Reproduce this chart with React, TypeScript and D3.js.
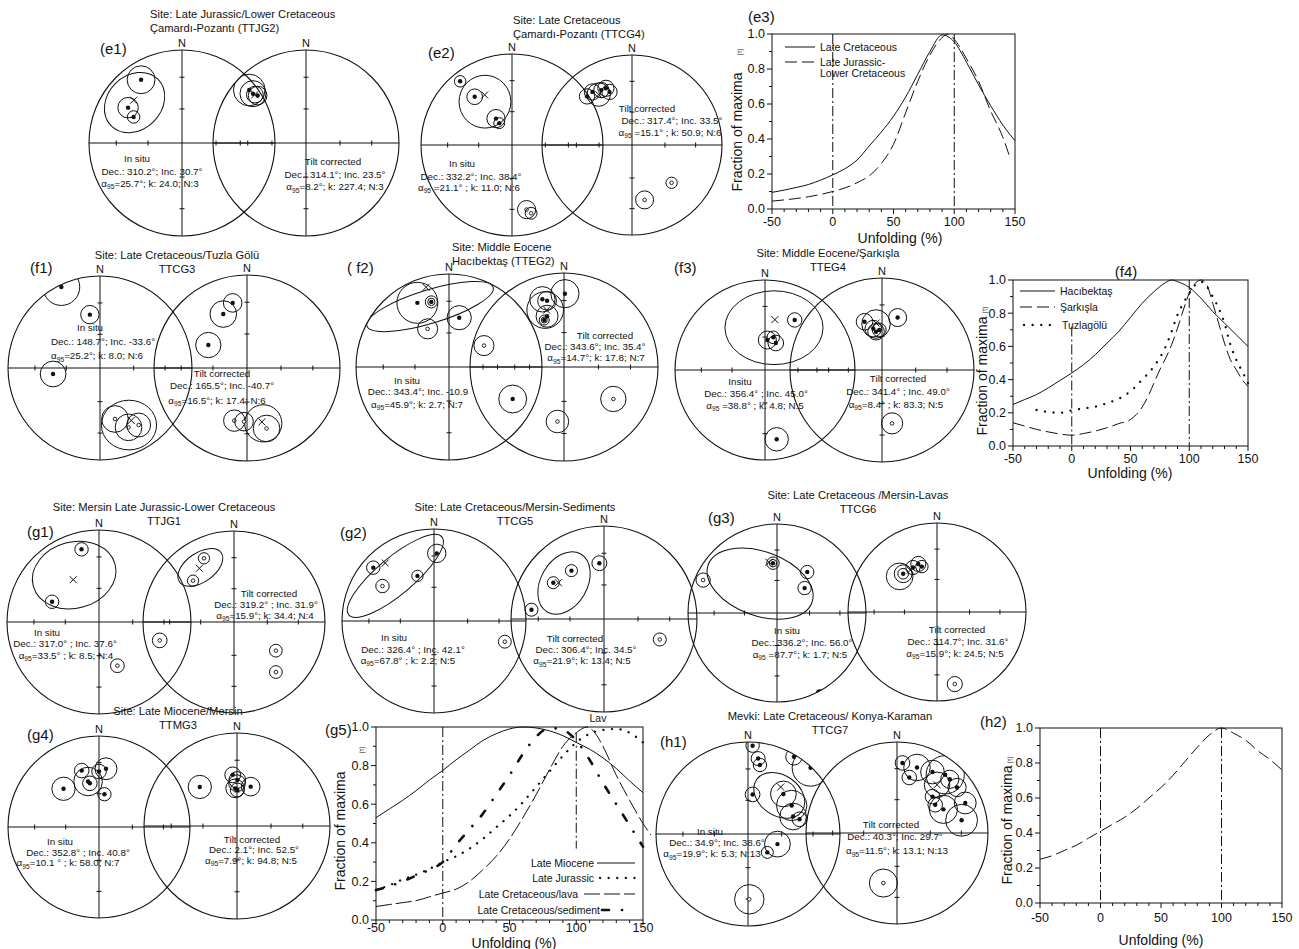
import React from 'react';
import * as d3 from 'd3';

const FONT = "'Liberation Sans', Arial, Helvetica, sans-serif";
const INK = '#111';

// ---------------------------------------------------------------
// Fold-test curves: fraction of maxima (τ) against unfolding (%)
// ---------------------------------------------------------------
const unfold = [-50, -40, -30, -20, -10, 0, 10, 20, 30, 40, 50, 60, 70, 80, 90, 100, 110, 120, 130, 140, 150];

// (e3) Çamardı-Pozantı
const e3LateCretaceous = [0.095, 0.108, 0.123, 0.14, 0.165, 0.195, 0.23, 0.28, 0.36, 0.44, 0.53, 0.64, 0.77, 0.9, 0.995, 0.955, 0.84, 0.71, 0.59, 0.48, 0.39];
const e3JurassicX = [-50, -40, -30, -20, -10, 0, 10, 20, 30, 40, 50, 60, 70, 80, 90, 95, 100, 110, 120, 130, 140, 146];
const e3Jurassic = [0.045, 0.052, 0.06, 0.07, 0.083, 0.1, 0.12, 0.15, 0.19, 0.26, 0.37, 0.55, 0.73, 0.88, 0.98, 1.0, 0.97, 0.86, 0.73, 0.56, 0.41, 0.29];

// (f4) Hacıbektaş / Şarkışla / Tuzlagölü
const f4HacX = [-50, -40, -30, -20, -10, 0, 10, 20, 30, 40, 50, 60, 70, 80, 85, 90, 100, 110, 120, 130, 140, 150];
const f4Hac = [0.25, 0.28, 0.31, 0.35, 0.395, 0.44, 0.49, 0.55, 0.62, 0.69, 0.775, 0.86, 0.93, 0.985, 1.0, 0.99, 0.955, 0.89, 0.81, 0.74, 0.67, 0.6];
const f4SarX = [-50, -40, -30, -20, -10, 0, 10, 20, 30, 40, 50, 55, 60, 65, 70, 75, 80, 85, 90, 95, 100, 105, 110, 115, 120, 125, 130, 135, 140, 145, 150];
const f4Sar = [0.14, 0.12, 0.1, 0.085, 0.072, 0.065, 0.075, 0.09, 0.11, 0.135, 0.16, 0.19, 0.235, 0.3, 0.38, 0.46, 0.53, 0.61, 0.71, 0.82, 0.92, 0.98, 1.0, 0.97, 0.86, 0.74, 0.62, 0.52, 0.46, 0.4, 0.36];
const f4TuzX = [-30, -20, -10, 0, 10, 20, 30, 40, 50, 60, 70, 80, 85, 90, 95, 100, 105, 110, 115, 120, 125, 130, 135, 140, 145, 150];
const f4Tuz = [0.217, 0.205, 0.2, 0.215, 0.227, 0.237, 0.258, 0.285, 0.33, 0.4, 0.48, 0.6, 0.69, 0.79, 0.86, 0.92, 0.97, 0.99, 0.96, 0.9, 0.83, 0.74, 0.61, 0.52, 0.45, 0.38];

// (g5) Mersin
const g5Miocene = [0.53, 0.575, 0.62, 0.67, 0.725, 0.775, 0.83, 0.88, 0.93, 0.965, 0.99, 1.0, 0.995, 0.98, 0.955, 0.92, 0.885, 0.84, 0.785, 0.72, 0.66];
const g5Jurassic = [0.155, 0.18, 0.21, 0.235, 0.265, 0.3, 0.33, 0.37, 0.42, 0.48, 0.54, 0.61, 0.69, 0.77, 0.85, 0.92, 0.965, 0.985, 0.99, 0.97, 0.92];
const g5LavaX = [-50, -40, -30, -20, -10, 0, 10, 20, 30, 40, 50, 60, 70, 80, 90, 100, 108, 115, 120, 130, 140, 150, 156];
const g5Lava = [0.07, 0.08, 0.09, 0.1, 0.12, 0.14, 0.16, 0.2, 0.26, 0.33, 0.42, 0.53, 0.65, 0.78, 0.9, 0.97, 1.0, 0.96, 0.9, 0.75, 0.62, 0.5, 0.44];
const g5Sediment = [0.155, 0.175, 0.2, 0.23, 0.26, 0.3, 0.39, 0.47, 0.55, 0.65, 0.75, 0.86, 0.95, 0.995, 0.985, 0.93, 0.83, 0.71, 0.6, 0.49, 0.38];

// (h2) Konya-Karaman
const h2Curve = [0.25, 0.27, 0.3, 0.33, 0.37, 0.41, 0.45, 0.49, 0.54, 0.6, 0.66, 0.73, 0.81, 0.89, 0.96, 1.0, 0.97, 0.93, 0.87, 0.82, 0.76];

const xTicks = [-50, 0, 50, 100, 150];
const yTicks = [0, 0.2, 0.4, 0.6, 0.8, 1.0];

// ---------------------------------------------------------------
// Stereonet data. x = east, y = north on the unit equal-area net,
// a = error circle radius on the same scale; kind: 1 lower hemisphere
// (filled), 0 upper hemisphere (open), 2 filled with inner ring,
// 3 large filled dot.
// ---------------------------------------------------------------
type Pt = [number, number, number, number];
type Ell = [number, number, number, number, number]; // cx, cy, rx, ry, rotation°

const netTickInc = [60, 30];

const e1InSituPts: Pt[] = [[-0.44, 0.68, 0.15, 1], [-0.58, 0.38, 0.11, 1], [-0.52, 0.28, 0.067, 1]];
const e1InSituMean = [-0.52, 0.46];
const e1InSituConf: Ell = [-0.51, 0.435, 0.355, 0.29, -45];
const e1InSituText = ['In situ', 'Dec.: 310.2°; Inc. 30.7°', '=25.7°; k: 24.0; N:3'];

const e1TiltPts: Pt[] = [[-0.61, 0.57, 0.17, 1], [-0.57, 0.53, 0.14, 1], [-0.52, 0.51, 0.1, 1]];
const e1TiltMean = [-0.55, 0.52];
const e1TiltConf: Ell = [-0.55, 0.52, 0.09, 0.09, 0];
const e1TiltText = ['Tilt corrected', 'Dec.: 314.1°; Inc. 23.5°', '=8.2°; k: 227.4; N:3'];

const e2InSituPts: Pt[] = [[-0.57, 0.7, 0.063, 1], [-0.41, 0.53, 0.086, 1], [-0.176, 0.29, 0.1, 1], [-0.14, 0.24, 0.06, 1], [0.16, -0.71, 0.1, 0], [0.21, -0.75, 0.065, 0]];
const e2InSituMean = [-0.3, 0.55];
const e2InSituConf: Ell = [-0.297, 0.476, 0.285, 0.29, 0];
const e2InSituText = ['In situ', 'Dec.: 332.2°; Inc. 38.4°', ' =21.1° ; k: 11.0; N:6'];

const e2TiltPts: Pt[] = [[-0.5, 0.54, 0.085, 1], [-0.44, 0.59, 0.09, 1], [-0.34, 0.61, 0.085, 1], [-0.29, 0.63, 0.09, 1], [-0.25, 0.59, 0.085, 1], [0.44, -0.42, 0.063, 0], [0.14, -0.61, 0.1, 0]];
const e2TiltMean = [-0.37, 0.56];
const e2TiltConf: Ell = [-0.37, 0.56, 0.13, 0.13, 0];
const e2TiltText = ['Tilt corrected', 'Dec.: 317.4°; Inc. 33.5°', ' =15.1° ; k: 50.9; N:6'];

const f1InSituPts: Pt[] = [[-0.42, 0.88, 0.2, 1], [-0.11, 0.58, 0.1, 1], [-0.51, -0.065, 0.14, 1], [0.163, -0.554, 0.145, 0], [0.31, -0.645, 0.145, 0], [0.42, -0.62, 0.13, 0]];
const f1InSituMean = [0.34, -0.57];
const f1InSituConf: Ell = [0.315, -0.62, 0.3, 0.27, 0];
const f1InSituText = ['In situ', 'Dec.: 148.7°; Inc. -33.6°', '=25.2°; k: 8.0; N:6'];

const f1TiltPts: Pt[] = [[-0.154, 0.7, 0.1, 1], [-0.255, 0.58, 0.143, 1], [-0.416, 0.247, 0.136, 1], [-0.137, -0.566, 0.115, 0], [-0.032, -0.577, 0.1, 0], [0.21, -0.65, 0.143, 0]];
const f1TiltMean = [0.16, -0.58];
const f1TiltConf: Ell = [0.175, -0.595, 0.2, 0.2, 0];
const f1TiltText = ['Tilt corrected', 'Dec.: 165.5°; Inc. -40.7°', '=16.5°; k: 17.4; N:6'];

const f2InSituPts: Pt[] = [[-0.34, 0.69, 0.22, 1], [-0.19, 0.7, 0.065, 2], [0.11, 0.53, 0.13, 1], [-0.23, 0.41, 0.108, 0], [0.376, 0.23, 0.108, 0], [0.685, -0.344, 0.15, 1]];
const f2InSituMean = [-0.247, 0.857];
const f2InSituConf: Ell = [-0.204, 0.65, 0.71, 0.18, -17];
const f2InSituText = ['In situ', 'Dec.: 343.4°; Inc. -10.9', '=45.9°; k: 2.7; N:7'];

const f2TiltPts: Pt[] = [[0.01, 0.78, 0.15, 1], [-0.23, 0.72, 0.135, 1], [-0.18, 0.705, 0.1, 1], [-0.18, 0.54, 0.117, 1], [-0.21, 0.5, 0.053, 2], [0.525, -0.34, 0.135, 0], [-0.07, -0.58, 0.12, 0]];
const f2TiltMean = [-0.184, 0.606];
const f2TiltConf: Ell = [-0.2, 0.606, 0.195, 0.195, 0];
const f2TiltText = ['Tilt corrected', 'Dec.: 343.6°; Inc. 35.4°', '=14.7°; k: 17.8; N:7'];

const f3InSituPts: Pt[] = [[0.33, 0.556, 0.08, 1], [0.026, 0.333, 0.1, 1], [0.092, 0.363, 0.07, 1], [0.12, 0.3, 0.087, 1], [0.13, -0.77, 0.13, 1]];
const f3InSituMean = [0.11, 0.56];
const f3InSituConf: Ell = [0.1, 0.47, 0.545, 0.41, 0];
const f3InSituText = ['Insitu', 'Dec.: 356.4° ; Inc. 45.0°', ' =38.8° ; k: 4.8; N:5'];

const f3TiltPts: Pt[] = [[0.17, 0.57, 0.098, 1], [-0.19, 0.525, 0.09, 1], [-0.095, 0.45, 0.09, 1], [-0.065, 0.416, 0.09, 1], [-0.03, 0.435, 0.075, 1], [0.11, -0.58, 0.115, 0]];
const f3TiltMean = [-0.065, 0.51];
const f3TiltConf: Ell = [-0.065, 0.5, 0.155, 0.155, 0];
const f3TiltText = ['Tilt corrected', 'Dec.: 341.4° ; Inc. 49.0°', '=8.4° ; k: 83.3; N:5'];

const g1InSituPts: Pt[] = [[-0.19, 0.79, 0.073, 1], [-0.51, 0.22, 0.073, 1], [0.66, -0.2, 0.08, 0], [0.2, -0.475, 0.075, 0]];
const g1InSituMean = [-0.28, 0.46];
const g1InSituConf: Ell = [-0.27, 0.51, 0.46, 0.36, -15];
const g1InSituText = ['In situ', 'Dec.: 317.0° ; Inc. 37.6°', '=33.5° ; k: 8.5; N:4'];

const g1TiltPts: Pt[] = [[-0.33, 0.7, 0.062, 0], [-0.45, 0.454, 0.062, 0], [0.46, -0.315, 0.07, 0], [0.46, -0.55, 0.07, 0]];
const g1TiltMean = [-0.38, 0.59];
const g1TiltConf: Ell = [-0.37, 0.6, 0.28, 0.16, -35];
const g1TiltText = ['Tilt corrected', 'Dec.: 319.2° ; Inc. 31.9°', '=15.9°; k: 34.4; N:4'];

const g2InSituPts: Pt[] = [[-0.66, 0.58, 0.073, 1], [-0.56, 0.38, 0.073, 0], [-0.18, 0.49, 0.062, 1], [0.03, 0.735, 0.1, 1], [0.77, -0.225, 0.07, 0]];
const g2InSituMean = [-0.53, 0.63];
const g2InSituConf: Ell = [-0.42, 0.49, 0.66, 0.2, -40];
const g2InSituText = ['In situ', 'Dec.: 326.4° ; Inc. 42.1°', '=67.8° ; k: 2.2; N:5'];

const g2TiltPts: Pt[] = [[-0.05, 0.6, 0.08, 1], [-0.35, 0.52, 0.065, 1], [-0.545, 0.39, 0.065, 1], [-0.78, 0.1, 0.07, 1], [0.6, -0.22, 0.07, 0]];
const g2TiltMean = [-0.49, 0.39];
const g2TiltConf: Ell = [-0.43, 0.387, 0.36, 0.25, -60];
const g2TiltText = ['Tilt corrected', 'Dec.: 306.4°; Inc. 34.5°', '=21.9°; k: 13.4; N:5'];

const g3InSituPts: Pt[] = [[-0.045, 0.56, 0.07, 2], [0.34, 0.46, 0.075, 1], [0.31, 0.28, 0.075, 1], [-0.83, 0.37, 0.08, 0], [0.48, -0.9, 0.04, 3]];
const g3InSituMean = [-0.09, 0.57];
const g3InSituConf: Ell = [-0.19, 0.33, 0.62, 0.36, 20];
const g3InSituText = ['In situ', 'Dec.: 336.2°; Inc. 56.0°', ' =87.7°; k: 1.7; N:5'];

const g3TiltPts: Pt[] = [[-0.38, 0.43, 0.1, 2], [-0.27, 0.5, 0.08, 1], [-0.21, 0.54, 0.085, 1], [-0.17, 0.51, 0.07, 1], [0.2, -0.81, 0.085, 0]];
const g3TiltMean = [-0.3, 0.47];
const g3TiltConf: Ell = [-0.42, 0.4, 0.15, 0.15, 0];
const g3TiltText = ['Tilt corrected', 'Dec.: 314.7°; Inc. 31.6°', '=15.9°; k: 24.5; N:5'];

const g4InSituPts: Pt[] = [[-0.39, 0.42, 0.128, 1], [-0.19, 0.62, 0.08, 1], [-0.12, 0.5, 0.157, 1], [-0.1, 0.48, 0.08, 1], [0.0, 0.61, 0.08, 1], [0.077, 0.64, 0.12, 1], [0.06, 0.36, 0.073, 1]];
const g4InSituText = ['In situ', 'Dec.: 352.8° ; Inc. 40.8°', '=10.1 ° ; k: 58.0; N:7'];

const g4TiltPts: Pt[] = [[-0.4, 0.42, 0.125, 1], [-0.046, 0.55, 0.085, 1], [0.003, 0.495, 0.09, 1], [-0.02, 0.405, 0.1, 1], [0.003, 0.387, 0.075, 1], [0.147, 0.423, 0.1, 1]];
const g4TiltConf: Ell = [0.0, 0.46, 0.09, 0.09, 0];
const g4TiltText = ['Tilt corrected', 'Dec.: 2.1°; Inc. 52.5°', '=7.9°; k: 94.8; N:5'];

const h1InSituPts: Pt[] = [[0.05, 0.96, 0.073, 1], [0.11, 0.82, 0.076, 1], [0.13, 0.75, 0.073, 1], [0.5, 0.84, 0.09, 1], [0.68, 0.72, 0.2, 1], [0.05, 0.43, 0.08, 1], [0.385, 0.435, 0.14, 1], [0.475, 0.31, 0.165, 1], [0.49, 0.19, 0.145, 1], [0.56, 0.16, 0.08, 1], [0.32, -0.11, 0.14, 1], [0.21, -0.2, 0.065, 1], [0.014, -0.71, 0.16, 0]];
const h1InSituMean = [0.355, 0.51];
const h1InSituConf: Ell = [0.34, 0.42, 0.3, 0.22, 35];
const h1InSituText = ['In situ', 'Dec.: 34.9°; Inc. 38.6°', '=19.9°; k: 5.3; N:13'];

const h1TiltPts: Pt[] = [[0.06, 0.77, 0.08, 1], [0.135, 0.61, 0.08, 1], [0.22, 0.72, 0.146, 1], [0.39, 0.67, 0.13, 1], [0.53, 0.64, 0.21, 1], [0.58, 0.59, 0.1, 1], [0.66, 0.5, 0.1, 1], [0.39, 0.4, 0.08, 1], [0.42, 0.31, 0.08, 1], [0.51, 0.26, 0.155, 1], [0.75, 0.33, 0.12, 1], [0.71, 0.14, 0.175, 1], [-0.15, -0.55, 0.154, 0]];
const h1TiltMean = [0.44, 0.53];
const h1TiltConf: Ell = [0.44, 0.53, 0.14, 0.14, 0];
const h1TiltText = ['Tilt corrected', 'Dec.: 40.3°; Inc. 29.7°', '=11.5°; k: 13.1; N:13'];

// Site titles
const titles: { lines: string[]; x: number; y: number; anchor: string }[] = [
  { lines: ['Site: Late Jurassic/Lower Cretaceous', 'Çamardı-Pozantı (TTJG2)'], x: 150, y: 18, anchor: 'start' },
  { lines: ['Site: Late Cretaceous', 'Çamardı-Pozantı (TTCG4)'], x: 513, y: 24, anchor: 'start' },
  { lines: ['Site: Late Cretaceous/Tuzla Gölü', 'TTCG3'], x: 177, y: 259, anchor: 'middle' },
  { lines: ['Site: Middle Eocene', 'Hacıbektaş (TTEG2)'], x: 452, y: 251, anchor: 'start' },
  { lines: ['Site: Middle Eocene/Şarkışla', 'TTEG4'], x: 828, y: 257, anchor: 'middle' },
  { lines: ['Site: Mersin Late Jurassic-Lower Cretaceous', 'TTJG1'], x: 164, y: 511, anchor: 'middle' },
  { lines: ['Site: Late Cretaceous/Mersin-Sediments', 'TTCG5'], x: 515, y: 511, anchor: 'middle' },
  { lines: ['Site: Late Cretaceous /Mersin-Lavas', 'TTCG6'], x: 858, y: 499, anchor: 'middle' },
  { lines: ['Site: Late Miocene/Mersin', 'TTMG3'], x: 178, y: 715, anchor: 'middle' },
  { lines: ['Mevki: Late Cretaceous/ Konya-Karaman', 'TTCG7'], x: 830, y: 720, anchor: 'middle' },
];

const panelLabels: [string, number, number, string][] = [
  ['(e1)', 100, 54, 'start'], ['(e2)', 428, 58, 'start'], ['(e3)', 748, 22, 'start'],
  ['(f1)', 30, 273, 'start'], ['( f2)', 347, 273, 'start'], ['(f3)', 674, 273, 'start'], ['(f4)', 1126, 277, 'middle'],
  ['(g1)', 27, 537, 'start'], ['(g2)', 340, 538, 'start'], ['(g3)', 708, 523, 'start'],
  ['(g4)', 27, 740, 'start'], ['(g5)', 325, 735, 'start'], ['(h1)', 660, 747, 'start'], ['(h2)', 980, 727, 'start'],
];

interface NetSpec {
  id: string; cx: number; cy: number; R: number;
  pts: Pt[]; mean?: number[]; conf?: Ell; text: string[]; pos: number[][];
}

const nets: NetSpec[] = [
  { id: 'e1a', cx: 182, cy: 143, R: 93, pts: e1InSituPts, mean: e1InSituMean, conf: e1InSituConf, text: e1InSituText, pos: [[137, 162], [152, 174.5], [150, 186.5]] },
  { id: 'e1b', cx: 306, cy: 143, R: 93, pts: e1TiltPts, mean: e1TiltMean, conf: e1TiltConf, text: e1TiltText, pos: [[333, 165], [335, 178], [335, 190]] },
  { id: 'e2a', cx: 512, cy: 145, R: 91, pts: e2InSituPts, mean: e2InSituMean, conf: e2InSituConf, text: e2InSituText, pos: [[462, 166.5], [471, 179.5], [469, 190.5]] },
  { id: 'e2b', cx: 632, cy: 145, R: 90, pts: e2TiltPts, mean: e2TiltMean, conf: e2TiltConf, text: e2TiltText, pos: [[647, 111.5], [672, 123.5], [670, 135.5]] },
  { id: 'f1a', cx: 100, cy: 368, R: 92, pts: f1InSituPts, mean: f1InSituMean, conf: f1InSituConf, text: f1InSituText, pos: [[90, 331], [103, 345], [97, 359]] },
  { id: 'f1b', cx: 247, cy: 368, R: 93, pts: f1TiltPts, mean: f1TiltMean, conf: f1TiltConf, text: f1TiltText, pos: [[222, 376.5], [222, 389], [217, 403.5]] },
  { id: 'f2a', cx: 449, cy: 367, R: 93, pts: f2InSituPts, mean: f2InSituMean, conf: f2InSituConf, text: f2InSituText, pos: [[407, 383.5], [418, 395], [417, 407.5]] },
  { id: 'f2b', cx: 564, cy: 367, R: 94, pts: f2TiltPts, mean: f2TiltMean, conf: f2TiltConf, text: f2TiltText, pos: [[605, 339], [595, 350], [596, 361]] },
  { id: 'f3a', cx: 765, cy: 370, R: 90, pts: f3InSituPts, mean: f3InSituMean, conf: f3InSituConf, text: f3InSituText, pos: [[740, 385], [756, 396.5], [755, 408.5]] },
  { id: 'f3b', cx: 882, cy: 370, R: 92, pts: f3TiltPts, mean: f3TiltMean, conf: f3TiltConf, text: f3TiltText, pos: [[898, 381.5], [898, 395], [896, 407.5]] },
  { id: 'g1a', cx: 99, cy: 622, R: 92, pts: g1InSituPts, mean: g1InSituMean, conf: g1InSituConf, text: g1InSituText, pos: [[47, 636], [65, 647], [66, 658.5]] },
  { id: 'g1b', cx: 234, cy: 622, R: 91, pts: g1TiltPts, mean: g1TiltMean, conf: g1TiltConf, text: g1TiltText, pos: [[269, 597], [266, 608], [265, 618.5]] },
  { id: 'g2a', cx: 434, cy: 621, R: 92, pts: g2InSituPts, mean: g2InSituMean, conf: g2InSituConf, text: g2InSituText, pos: [[394, 641], [413, 652.5], [408, 663.5]] },
  { id: 'g2b', cx: 604, cy: 619, R: 93, pts: g2TiltPts, mean: g2TiltMean, conf: g2TiltConf, text: g2TiltText, pos: [[575, 641.5], [586, 652.5], [582, 664]] },
  { id: 'g3a', cx: 777, cy: 613, R: 89, pts: g3InSituPts, mean: g3InSituMean, conf: g3InSituConf, text: g3InSituText, pos: [[787, 633.5], [802, 645.5], [800, 657.5]] },
  { id: 'g3b', cx: 937, cy: 612, R: 89, pts: g3TiltPts, mean: g3TiltMean, conf: g3TiltConf, text: g3TiltText, pos: [[957, 632.5], [958, 644.5], [955, 656.5]] },
  { id: 'g4a', cx: 99, cy: 827, R: 91, pts: g4InSituPts, text: g4InSituText, pos: [[60, 845], [78, 856], [68, 866]] },
  { id: 'g4b', cx: 237, cy: 826, R: 93, pts: g4TiltPts, conf: g4TiltConf, text: g4TiltText, pos: [[252, 842.5], [254, 852.5], [251, 863.5]] },
  { id: 'h1a', cx: 748, cy: 834, R: 92, pts: h1InSituPts, mean: h1InSituMean, conf: h1InSituConf, text: h1InSituText, pos: [[710, 835], [717, 846], [712, 857]] },
  { id: 'h1b', cx: 897, cy: 833, R: 91, pts: h1TiltPts, mean: h1TiltMean, conf: h1TiltConf, text: h1TiltText, pos: [[891, 828], [895, 840], [897, 854]] },
];

const STYLES: Record<string, { dash?: string; width: number; cap: 'butt' | 'round' }> = {
  solid: { width: 1, cap: 'butt' },
  dash: { dash: '12,5', width: 1, cap: 'butt' },
  longdash: { dash: '16,4', width: 1, cap: 'butt' },
  dot: { dash: '0.1,8.5', width: 2.3, cap: 'round' },
  sediment: { dash: '7,13,0.1,13', width: 2.6, cap: 'round' },
  dashdot: { dash: '10,3,2,3', width: 1, cap: 'butt' },
};

function Alpha95({ x, y, rest, size }: { x: number; y: number; rest: string; size: number }) {
  return (
    <text x={x} y={y} textAnchor="middle" fontSize={size}>
      <tspan>α</tspan>
      <tspan fontSize={size * 0.68} dy={2.6}>95</tspan>
      <tspan dy={-2.6}>{rest}</tspan>
    </text>
  );
}

function Net({ s }: { s: NetSpec }) {
  const sx = d3.scaleLinear().domain([-1, 1]).range([s.cx - s.R, s.cx + s.R]);
  const sy = d3.scaleLinear().domain([-1, 1]).range([s.cy + s.R, s.cy - s.R]);
  const len = (v: number) => sx(v) - sx(0);
  // equal-area radii of the inclination ticks
  const rho = netTickInc.map((i) => Math.SQRT2 * Math.sin(((90 - i) / 2) * Math.PI / 180));
  const ticks = rho.flatMap((r) => [r, -r]);
  const sw = 1;
  return (
    <g>
      <defs>
        <clipPath id={`clip-${s.id}`}>
          <circle cx={sx(0)} cy={sy(0)} r={len(1)} />
        </clipPath>
      </defs>
      <circle cx={sx(0)} cy={sy(0)} r={len(1)} fill="none" stroke={INK} strokeWidth={1.1} />
      <line x1={sx(-1)} x2={sx(1)} y1={sy(0)} y2={sy(0)} stroke={INK} strokeWidth={sw} />
      <line x1={sx(0)} x2={sx(0)} y1={sy(1)} y2={sy(-1)} stroke={INK} strokeWidth={sw} />
      {ticks.map((t, i) => (
        <g key={i}>
          <line x1={sx(t)} x2={sx(t)} y1={sy(0) - 2.5} y2={sy(0) + 2.5} stroke={INK} strokeWidth={sw} />
          <line x1={sx(0) - 2.5} x2={sx(0) + 2.5} y1={sy(t)} y2={sy(t)} stroke={INK} strokeWidth={sw} />
        </g>
      ))}
      <text x={sx(0)} y={sy(1) - 3.5} textAnchor="middle" fontSize={11}>N</text>
      <g clipPath={`url(#clip-${s.id})`}>
        {s.conf && (
          <ellipse
            cx={0} cy={0} rx={len(s.conf[2])} ry={len(s.conf[3])}
            transform={`translate(${sx(s.conf[0])},${sy(s.conf[1])}) rotate(${s.conf[4]})`}
            fill="none" stroke={INK} strokeWidth={1}
          />
        )}
        {s.pts.map((p, i) => {
          const x = sx(p[0]);
          const y = sy(p[1]);
          return (
            <g key={i}>
              {p[3] !== 3 && <circle cx={x} cy={y} r={len(p[2])} fill="none" stroke={INK} strokeWidth={1} />}
              {p[3] === 2 && <circle cx={x} cy={y} r={len(p[2]) * 0.6} fill="none" stroke={INK} strokeWidth={1} />}
              {p[3] === 0 ? (
                <circle cx={x} cy={y} r={1.8} fill="#fff" stroke={INK} strokeWidth={0.9} />
              ) : (
                <circle cx={x} cy={y} r={p[3] === 3 ? 3.8 : 2.2} fill={INK} />
              )}
            </g>
          );
        })}
        {s.mean && (
          <path
            d={`M${sx(s.mean[0]) - 3.5},${sy(s.mean[1]) - 3.5}L${sx(s.mean[0]) + 3.5},${sy(s.mean[1]) + 3.5}M${sx(s.mean[0]) - 3.5},${sy(s.mean[1]) + 3.5}L${sx(s.mean[0]) + 3.5},${sy(s.mean[1]) - 3.5}`}
            stroke={INK} strokeWidth={1}
          />
        )}
      </g>
      <text x={s.pos[0][0]} y={s.pos[0][1]} textAnchor="middle" fontSize={9.8}>{s.text[0]}</text>
      <text x={s.pos[1][0]} y={s.pos[1][1]} textAnchor="middle" fontSize={9.8}>{s.text[1]}</text>
      <Alpha95 x={s.pos[2][0]} y={s.pos[2][1]} rest={s.text[2]} size={9.8} />
    </g>
  );
}

interface Curve { xs: number[]; ys: number[]; style: string }
interface Box { l: number; r: number; t: number; b: number }

function StyledPath({ d, style }: { d: string; style: string }) {
  const st = STYLES[style];
  return (
    <path d={d} fill="none" stroke={INK} strokeWidth={st.width}
      strokeDasharray={st.dash} strokeLinecap={st.cap} />
  );
}

function FoldPlot({ box, curves, vlines, yLabel, tau, xTitle, tickY, children }: {
  box: Box; curves: Curve[]; vlines: number[][]; yLabel: number[]; tau: number[];
  xTitle: number[]; tickY: number; children?: React.ReactNode;
}) {
  const x = d3.scaleLinear().domain([-50, 150]).range([box.l, box.r]);
  const y = d3.scaleLinear().domain([0, 1]).range([box.b, box.t]);
  const line = d3.line<number[]>().x((d) => x(d[0])).y((d) => y(d[1])).curve(d3.curveMonotoneX);
  const xMinor = d3.range(-50, 151, 10);
  const yMinor = d3.range(0, 1.001, 0.1);
  return (
    <g>
      <rect x={box.l} y={box.t} width={box.r - box.l} height={box.b - box.t} fill="none" stroke={INK} strokeWidth={1} />
      {xMinor.map((v) => (
        <line key={`xm${v}`} x1={x(v)} x2={x(v)} y1={box.b} y2={box.b + (v % 50 === 0 ? 5 : 3)} stroke={INK} strokeWidth={1} />
      ))}
      {yMinor.map((v, i) => (
        <line key={`ym${i}`} x1={box.l} x2={box.l - (i % 2 === 0 ? 5 : 3)} y1={y(v)} y2={y(v)} stroke={INK} strokeWidth={1} />
      ))}
      {xTicks.map((v) => (
        <text key={`xt${v}`} x={x(v)} y={tickY} textAnchor="middle" fontSize={12.5}>{v}</text>
      ))}
      {yTicks.map((v) => (
        <text key={`yt${v}`} x={box.l - 7} y={y(v) + 4.3} textAnchor="end" fontSize={12.5}>{d3.format('.1f')(v)}</text>
      ))}
      {vlines.map((v, i) => (
        <line key={`v${i}`} x1={x(v[0])} x2={x(v[0])} y1={y(v[2])} y2={y(v[1])} stroke={INK} strokeWidth={1} strokeDasharray={STYLES.dashdot.dash} />
      ))}
      {curves.map((c, i) => (
        <StyledPath key={`c${i}`} style={c.style} d={line(c.xs.map((v, j) => [v, c.ys[j]])) || ''} />
      ))}
      <text transform={`translate(${yLabel[0]},${yLabel[1]}) rotate(-90)`} textAnchor="middle" fontSize={14}>Fraction of maxima</text>
      <text transform={`translate(${tau[0]},${tau[1]}) rotate(-90)`} textAnchor="middle" fontSize={6.5}>(τ)</text>
      <text x={xTitle[0]} y={xTitle[1]} textAnchor="middle" fontSize={14}>Unfolding (%)</text>
      {children}
    </g>
  );
}

function LegendRow({ style, x1, x2, y, tx, label, anchor }: {
  style: string; x1: number; x2: number; y: number; tx: number; label: string[]; anchor: string;
}) {
  return (
    <g>
      <StyledPath style={style} d={`M${x1},${y}L${x2},${y}`} />
      {label.map((t, i) => (
        <text key={i} x={tx} y={y + 3.6 + i * 11} textAnchor={anchor} fontSize={10.5}>{t}</text>
      ))}
    </g>
  );
}

export default function App() {
  return (
    <div style={{ position: 'absolute', left: 0, top: 0, width: 1299, height: 949, background: '#fff' }}>
      <svg width={1299} height={949} viewBox="0 0 1299 949" style={{ display: 'block', fontFamily: FONT }} fill={INK}>
        <rect x={0} y={0} width={1299} height={949} fill="#fff" />
        {titles.map((t, i) => (
          <g key={`t${i}`}>
            {t.lines.map((l, j) => (
              <text key={j} x={t.x} y={t.y + j * 13.5} textAnchor={t.anchor} fontSize={11.2}>{l}</text>
            ))}
          </g>
        ))}
        {panelLabels.map(([t, x, y, a]) => (
          <text key={t} x={x} y={y} textAnchor={a} fontSize={15}>{t}</text>
        ))}
        {nets.map((s) => <Net key={s.id} s={s} />)}

        {/* (e3) */}
        <FoldPlot
          box={{ l: 772, r: 1015, t: 34, b: 209 }}
          curves={[
            { xs: unfold, ys: e3LateCretaceous, style: 'solid' },
            { xs: e3JurassicX, ys: e3Jurassic, style: 'dash' },
          ]}
          vlines={[[0, 0, 1], [100, 0, 1]]}
          yLabel={[742, 132]} tau={[742, 52]} xTitle={[900, 243]} tickY={226}
        >
          <LegendRow style="solid" x1={785} x2={815} y={47} tx={820} label={['Late Cretaceous']} anchor="start" />
          <LegendRow style="dash" x1={785} x2={815} y={62} tx={820} label={['Late Jurassic-', 'Lower Cretaceous']} anchor="start" />
        </FoldPlot>

        {/* (f4) */}
        <FoldPlot
          box={{ l: 1013, r: 1248, t: 280, b: 446 }}
          curves={[
            { xs: f4HacX, ys: f4Hac, style: 'solid' },
            { xs: f4SarX, ys: f4Sar, style: 'dash' },
            { xs: f4TuzX, ys: f4Tuz, style: 'dot' },
          ]}
          vlines={[[0, 0, 0.72], [100, 0, 1]]}
          yLabel={[987, 376]} tau={[987, 310]} xTitle={[1130, 478]} tickY={463}
        >
          <LegendRow style="solid" x1={1020} x2={1055} y={291} tx={1060} label={['Hacıbektaş']} anchor="start" />
          <LegendRow style="dash" x1={1020} x2={1055} y={307} tx={1060} label={['Şarkışla']} anchor="start" />
          <LegendRow style="dot" x1={1024} x2={1058} y={325} tx={1062} label={['Tuzlagölü']} anchor="start" />
        </FoldPlot>

        {/* (g5) */}
        <FoldPlot
          box={{ l: 376, r: 643, t: 727, b: 920 }}
          curves={[
            { xs: unfold, ys: g5Miocene, style: 'solid' },
            { xs: unfold, ys: g5Jurassic, style: 'dot' },
            { xs: g5LavaX, ys: g5Lava, style: 'longdash' },
            { xs: unfold, ys: g5Sediment, style: 'sediment' },
          ]}
          vlines={[[0, 0, 1], [100, 0.37, 0.97]]}
          yLabel={[345, 831]} tau={[364, 750]} xTitle={[514, 947.5]} tickY={931.5}
        >
          <text x={598} y={722} textAnchor="middle" fontSize={10.5}>Lav</text>
          <LegendRow style="solid" x1={597} x2={635} y={863} tx={594} label={['Late Miocene']} anchor="end" />
          <LegendRow style="dot" x1={600} x2={635} y={878} tx={594} label={['Late Jurassic']} anchor="end" />
          <LegendRow style="longdash" x1={584} x2={635} y={894} tx={578} label={['Late Cretaceous/lava']} anchor="end" />
          <LegendRow style="sediment" x1={602} x2={635} y={910} tx={600} label={['Late Cretaceous/sediment']} anchor="end" />
        </FoldPlot>

        {/* (h2) */}
        <FoldPlot
          box={{ l: 1040, r: 1282, t: 728, b: 903 }}
          curves={[{ xs: unfold, ys: h2Curve, style: 'dash' }]}
          vlines={[[0, 0, 1], [100, 0, 1]]}
          yLabel={[1012, 825]} tau={[1012, 760]} xTitle={[1161, 945]} tickY={922}
        />
      </svg>
    </div>
  );
}
